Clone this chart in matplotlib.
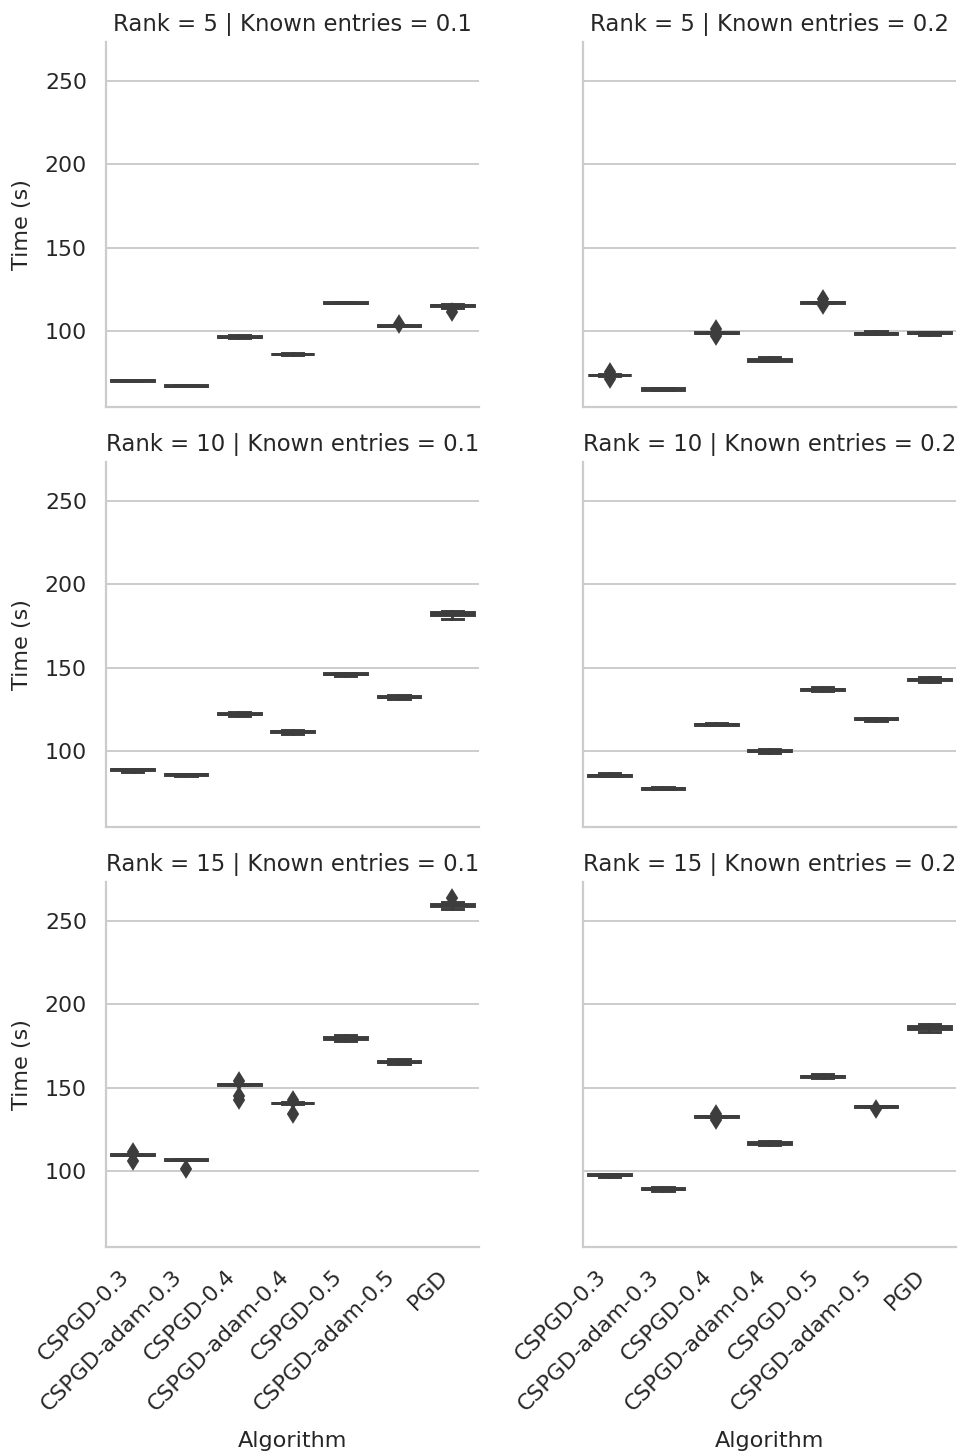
import matplotlib
matplotlib.use("Agg")
import matplotlib.pyplot as plt

# ---------------------------------------------------------------------------
# Data: wall-clock time (s) of repeated runs for each algorithm
# ---------------------------------------------------------------------------
algorithms = ["CSPGD-0.3", "CSPGD-adam-0.3", "CSPGD-0.4", "CSPGD-adam-0.4",
              "CSPGD-0.5", "CSPGD-adam-0.5", "PGD"]
ranks = [5, 10, 15]
known_entries = [0.1, 0.2]

time_r5_k01 = [
    [69.8, 69.9, 70.0, 70.2, 70.3, 70.4, 70.6, 70.7, 70.8],
    [66.8, 66.9, 67.0, 67.1, 67.2, 67.3, 67.4, 67.5, 67.6],
    [95.6, 96.1, 96.3, 96.5, 96.6, 96.7, 96.9, 97.2, 97.7],
    [85.8, 85.9, 86.0, 86.1, 86.2, 86.3, 86.4, 86.5, 86.6],
    [116.6, 116.7, 116.8, 116.9, 117.0, 117.1, 117.2, 117.3, 117.4],
    [102.8, 102.9, 103.0, 103.1, 103.2, 103.3, 103.4, 103.5, 104.3],
    [111.2, 114.0, 114.9, 115.1, 115.3, 115.4, 115.6, 115.9, 116.3],
]
time_r5_k02 = [
    [71.2, 73.2, 73.4, 73.5, 73.6, 73.7, 73.8, 74.0, 75.1],
    [64.4, 64.5, 64.6, 64.9, 65.2, 65.5, 65.7, 65.8, 65.9],
    [97.2, 98.6, 98.8, 98.9, 99.0, 99.1, 99.2, 99.4, 101.0],
    [82.0, 82.1, 82.2, 82.5, 82.6, 82.8, 83.0, 83.5, 84.1],
    [115.4, 116.9, 117.0, 117.1, 117.2, 117.3, 117.4, 117.5, 119.0],
    [98.1, 98.2, 98.3, 98.5, 98.6, 98.7, 98.9, 99.3, 99.8],
    [97.6, 98.2, 98.6, 98.8, 99.0, 99.1, 99.4, 99.5, 99.6],
]
time_r10_k01 = [
    [87.6, 88.1, 88.5, 88.7, 88.9, 89.0, 89.2, 89.3, 89.4],
    [84.8, 85.3, 85.6, 85.8, 86.0, 86.1, 86.3, 86.4, 86.5],
    [121.3, 121.7, 122.0, 122.2, 122.4, 122.6, 122.8, 123.1, 123.5],
    [110.4, 111.0, 111.5, 111.7, 111.9, 112.0, 112.3, 112.4, 112.5],
    [145.0, 145.6, 146.0, 146.2, 146.4, 146.5, 146.8, 146.9, 147.0],
    [131.2, 131.8, 132.3, 132.5, 132.7, 132.8, 133.1, 133.2, 133.3],
    [179.4, 180.6, 181.6, 182.2, 182.6, 182.9, 183.4, 183.6, 183.8],
]
time_r10_k02 = [
    [84.9, 85.0, 85.1, 85.3, 85.4, 85.6, 85.8, 86.2, 86.7],
    [77.1, 77.2, 77.3, 77.5, 77.6, 77.7, 77.9, 78.2, 78.6],
    [115.5, 115.6, 115.7, 115.9, 116.0, 116.1, 116.3, 116.6, 117.0],
    [99.0, 99.4, 99.8, 100.0, 100.2, 100.4, 100.6, 101.0, 101.4],
    [136.2, 136.4, 136.5, 136.8, 137.0, 137.2, 137.4, 138.0, 138.6],
    [118.1, 118.6, 119.0, 119.2, 119.4, 119.5, 119.8, 119.9, 120.0],
    [141.3, 141.9, 142.4, 142.7, 142.9, 143.1, 143.4, 144.0, 144.6],
]
time_r15_k01 = [
    [106.0, 109.4, 109.6, 109.7, 109.8, 109.9, 110.0, 110.2, 111.7],
    [101.0, 106.4, 106.6, 106.7, 106.8, 106.9, 107.0, 107.1, 107.2],
    [142.5, 145.0, 151.8, 151.9, 152.0, 152.1, 152.2, 152.4, 154.0],
    [134.0, 140.5, 140.7, 140.8, 140.9, 141.0, 141.1, 141.3, 142.8],
    [178.0, 178.8, 179.2, 179.5, 179.7, 179.9, 180.2, 180.8, 181.6],
    [164.2, 164.8, 165.2, 165.5, 165.7, 165.9, 166.2, 166.9, 167.5],
    [257.2, 258.2, 258.9, 259.3, 259.5, 259.8, 260.1, 261.2, 264.0],
]
time_r15_k02 = [
    [96.4, 97.0, 97.4, 97.6, 97.8, 98.0, 98.3, 98.4, 98.5],
    [88.2, 88.7, 89.1, 89.3, 89.5, 89.6, 89.8, 90.1, 90.4],
    [130.4, 132.4, 132.6, 132.7, 132.8, 132.9, 133.0, 133.2, 134.2],
    [115.4, 116.0, 116.5, 116.7, 116.9, 117.1, 117.3, 117.8, 118.3],
    [156.0, 156.2, 156.3, 156.6, 156.8, 157.0, 157.2, 157.8, 158.4],
    [137.0, 138.5, 138.7, 138.8, 138.9, 139.0, 139.1, 139.2, 139.3],
    [183.2, 184.5, 185.4, 185.9, 186.3, 186.6, 187.0, 187.6, 188.3],
]

panels = {
    (5, 0.1): time_r5_k01, (5, 0.2): time_r5_k02,
    (10, 0.1): time_r10_k01, (10, 0.2): time_r10_k02,
    (15, 0.1): time_r15_k01, (15, 0.2): time_r15_k02,
}

# ---------------------------------------------------------------------------
# Styling
# ---------------------------------------------------------------------------
BOX = "#3d3d3d"
TEXT = "#262626"
LIGHT = "#cccccc"
LW = 2.1

plt.rcParams["font.family"] = ["DejaVu Sans"]

W, H = 961, 1455
fig = plt.figure(figsize=(W / 100, H / 100), dpi=100)

col_left = [106, 583]
ax_w = 373
row_top = [42, 462, 882]
ax_h = 365

for r, rank in enumerate(ranks):
    for c, known in enumerate(known_entries):
        ax = fig.add_axes([col_left[c] / W, (H - row_top[r] - ax_h) / H,
                           ax_w / W, ax_h / H])
        runs = panels[(rank, known)]
        ax.boxplot(
            runs, positions=list(range(len(algorithms))), widths=0.8,
            patch_artist=True, whis=1.5,
            boxprops=dict(facecolor=BOX, edgecolor=BOX, linewidth=LW),
            medianprops=dict(color=BOX, linewidth=LW),
            whiskerprops=dict(color=BOX, linewidth=LW),
            capprops=dict(color=BOX, linewidth=LW),
            flierprops=dict(marker="d", markerfacecolor=BOX,
                            markeredgecolor=BOX, markersize=8,
                            markeredgewidth=1.4),
        )
        ax.set_xlim(-0.5, len(algorithms) - 0.5)
        ax.set_ylim(54.4, 273.4)
        ax.set_yticks([100, 150, 200, 250])
        ax.set_xticks(range(len(algorithms)))

        ax.set_axisbelow(True)
        ax.yaxis.grid(True, color=LIGHT, linewidth=1.4)
        ax.xaxis.grid(False)
        for side in ("top", "right"):
            ax.spines[side].set_visible(False)
        for side in ("left", "bottom"):
            ax.spines[side].set_color(LIGHT)
            ax.spines[side].set_linewidth(1.6)

        ax.tick_params(axis="both", length=0, pad=13.7, labelsize=15.8,
                       labelcolor=TEXT)

        ax.set_title(f"Rank = {rank} | Known entries = {known}",
                     fontsize=16.4, color=TEXT, pad=8)

        if c == 0:
            ax.set_ylabel("Time (s)", fontsize=16.1, color=TEXT)
            ax.yaxis.set_label_coords(-0.198, 0.5)
        else:
            ax.tick_params(axis="y", labelleft=False)

        if r == len(ranks) - 1:
            ax.set_xticklabels(algorithms, rotation=45, ha="right")
            ax.set_xlabel("Algorithm", fontsize=16.1, color=TEXT, va="top")
            ax.xaxis.set_label_coords(0.5, -0.504)
        else:
            ax.tick_params(axis="x", labelbottom=False)

fig.savefig("out.png", dpi=100, facecolor="white")
